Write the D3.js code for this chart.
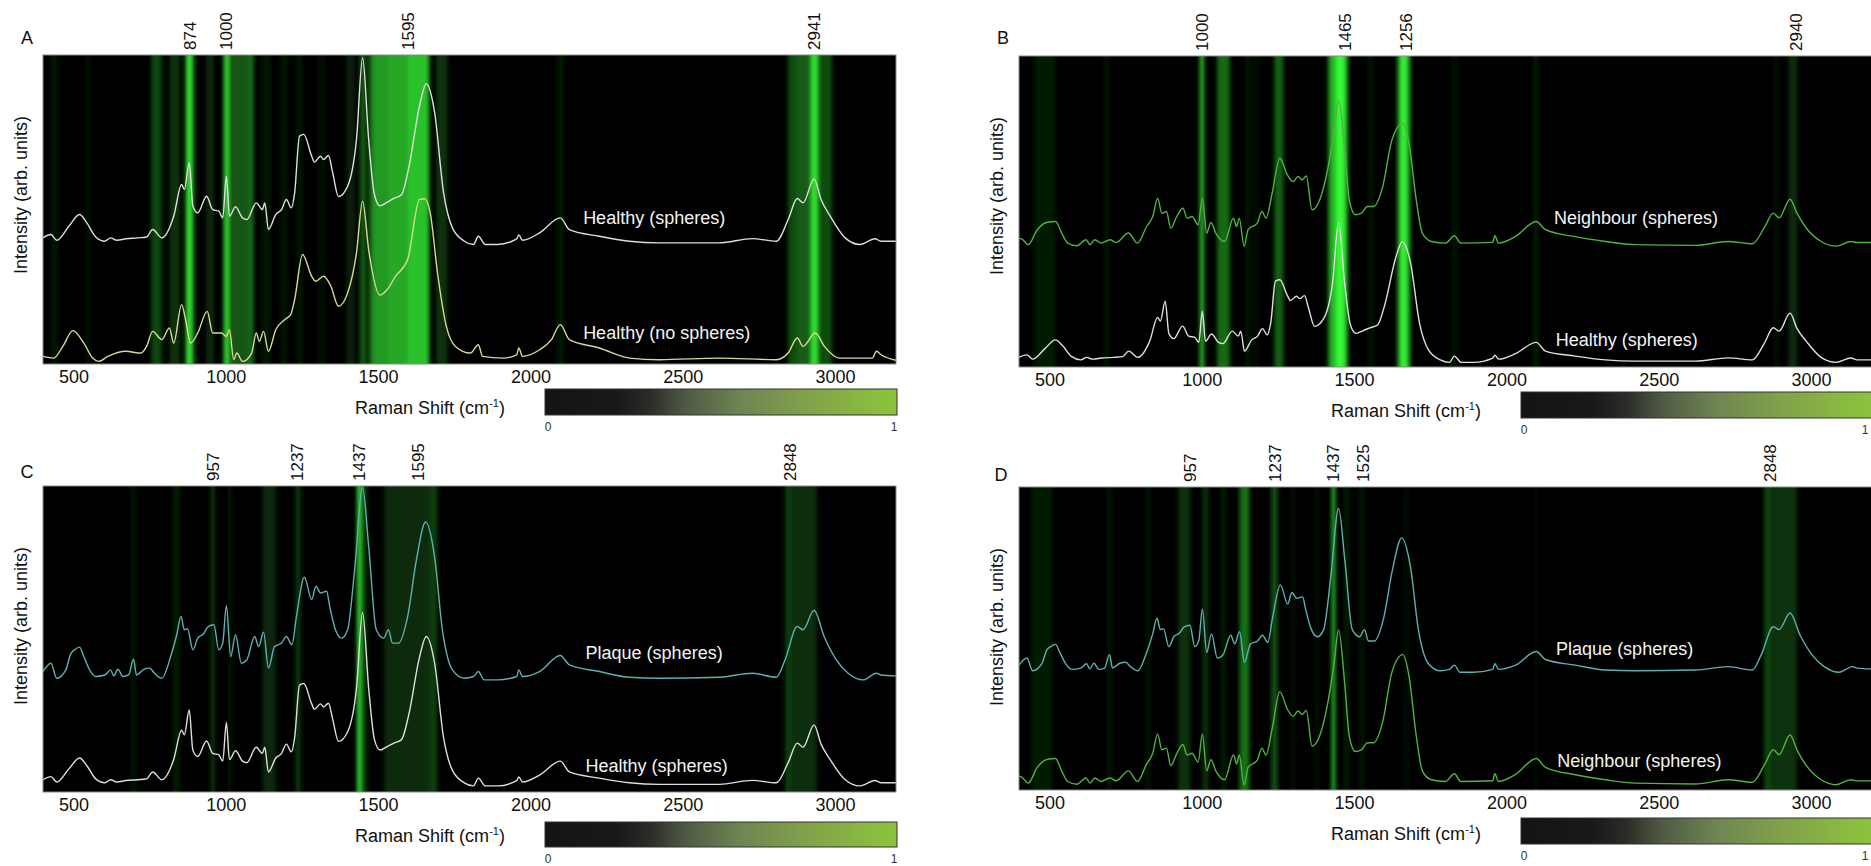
<!DOCTYPE html>
<html><head><meta charset="utf-8">
<script src="https://cdn.jsdelivr.net/npm/d3@7"></script>
<style>body{margin:0;background:#fff}svg{display:block;font-family:Arial,"Liberation Sans",sans-serif}</style>
</head><body><svg id="chart" width="1871" height="866"></svg>
<script>
// ---------------- DATA ----------------
const xDomain = [400, 3200];
const xTicks = [500, 1000, 1500, 2000, 2500, 3000];
const panelLetters = ["A", "B", "C", "D"];
const colorbarTicks = ["0", "1"];

// spectra: [Raman shift, relative intensity (flat region = 0, 1449 peak = 1)]
const healthySpheres = [[400,0.027],[426,0.045],[445,0.014],[485,0.09],[520,0.153],[544,0.108],[573,0.032],[603,0.009],[622,0.027],[642,0.014],[672,0.022],[711,0.027],[740,0.032],[760,0.072],[790,0.027],[829,0.144],[855,0.315],[864,0.288],[880,0.432],[892,0.198],[908,0.162],[937,0.252],[957,0.18],[977,0.171],[990,0.135],[1002,0.36],[1012,0.144],[1032,0.195],[1055,0.135],[1069,0.126],[1100,0.216],[1120,0.18],[1128,0.216],[1140,0.072],[1164,0.153],[1183,0.18],[1199,0.234],[1215,0.189],[1226,0.27],[1242,0.577],[1256,0.586],[1282,0.468],[1291,0.436],[1311,0.468],[1321,0.45],[1337,0.472],[1351,0.378],[1370,0.25],[1400,0.306],[1429,0.559],[1449,1.0],[1469,0.559],[1488,0.26],[1506,0.2],[1530,0.22],[1552,0.24],[1577,0.26],[1600,0.4],[1636,0.74],[1658,0.86],[1685,0.71],[1715,0.27],[1744,0.081],[1783,0.009],[1813,-0.009],[1829,0.036],[1852,-0.009],[1892,-0.009],[1955,0.022],[1962,0.043],[1974,0.014],[2030,0.054],[2098,0.135],[2128,0.072],[2226,0.036],[2325,0.009],[2423,0],[2620,0],[2728,0.023],[2807,0.009],[2846,0.126],[2876,0.24],[2895,0.216],[2931,0.346],[2954,0.234],[2984,0.144],[3033,0.027],[3082,-0.009],[3131,0.022],[3151,0.009],[3200,0.009]];

const healthyNoSpheres = [[400,0.017],[435,0.006],[465,0.08],[498,0.18],[534,0.101],[563,0.006],[583,-0.015],[613,0.017],[672,0.049],[721,0.038],[740,0.08],[760,0.175],[790,0.123],[815,0.197],[829,0.101],[855,0.345],[868,0.249],[884,0.101],[908,0.165],[939,0.302],[957,0.165],[986,0.165],[1002,0.144],[1012,0.186],[1026,-0.004],[1036,0.038],[1055,-0.015],[1085,0.038],[1100,0.165],[1110,0.112],[1124,0.175],[1140,0.049],[1164,0.186],[1193,0.249],[1213,0.281],[1226,0.376],[1252,0.662],[1282,0.524],[1295,0.493],[1321,0.524],[1345,0.461],[1370,0.334],[1400,0.419],[1429,0.672],[1449,1.0],[1469,0.693],[1506,0.405],[1530,0.44],[1557,0.524],[1597,0.63],[1636,1.011],[1652,1.015],[1671,0.926],[1695,0.545],[1724,0.207],[1754,0.08],[1803,0.038],[1829,0.091],[1843,0.017],[1911,0.006],[1955,0.027],[1962,0.07],[1974,0.017],[2030,0.059],[2069,0.123],[2098,0.218],[2128,0.123],[2226,0.07],[2325,0.006],[2423,-0.004],[2620,0.006],[2807,-0.004],[2846,0.038],[2876,0.133],[2895,0.08],[2935,0.165],[2965,0.08],[3014,0.006],[3122,0.006],[3136,0.049],[3151,0.027],[3200,-0.008]];

const neighbourSpheres = [[400,0.05],[410,0.043],[430,0.005],[460,0.108],[490,0.158],[520,0.165],[540,0.085],[560,0.016],[590,-0.002],[620,0.039],[633,0.005],[649,0.039],[669,0.016],[699,0.039],[719,0.021],[759,0.085],[789,0.016],[819,0.13],[839,0.199],[855,0.325],[869,0.222],[884,0.233],[898,0.119],[918,0.199],[938,0.256],[952,0.188],[968,0.199],[988,0.142],[1002,0.325],[1016,0.085],[1030,0.158],[1046,0.085],[1075,0.027],[1104,0.188],[1114,0.13],[1123,0.188],[1139,-0.007],[1152,0.108],[1182,0.153],[1197,0.233],[1211,0.188],[1231,0.359],[1256,0.6],[1281,0.485],[1300,0.439],[1316,0.474],[1330,0.451],[1343,0.478],[1362,0.245],[1387,0.313],[1415,0.542],[1434,0.78],[1449,1.0],[1469,0.657],[1484,0.313],[1504,0.211],[1524,0.222],[1544,0.268],[1564,0.268],[1594,0.405],[1624,0.725],[1660,0.84],[1680,0.703],[1704,0.313],[1724,0.085],[1754,0.027],[1800,0.016],[1829,0.066],[1850,0.016],[1955,0.021],[1962,0.066],[1974,0.016],[2030,0.062],[2098,0.165],[2128,0.108],[2226,0.06],[2325,0.027],[2423,0.005],[2620,0],[2728,0.027],[2807,0.011],[2846,0.12],[2876,0.222],[2895,0.19],[2931,0.318],[2954,0.22],[2984,0.12],[3033,0.027],[3082,-0.005],[3131,0.027],[3151,0.02],[3200,0.02]];

const plaqueSpheres = [[400,0.03],[426,0.074],[445,-0.005],[475,0.039],[491,0.123],[504,0.145],[520,0.159],[534,0.109],[553,0.039],[573,0.004],[603,0.012],[622,0.039],[632,0.007],[646,0.042],[662,0.004],[681,0.012],[697,0.095],[707,0.012],[731,0.042],[750,0.048],[766,0.021],[790,-0.005],[819,0.109],[839,0.224],[853,0.321],[864,0.25],[874,0.256],[892,0.145],[908,0.206],[927,0.229],[941,0.265],[961,0.277],[977,0.145],[990,0.18],[1002,0.377],[1016,0.109],[1032,0.224],[1051,0.074],[1069,0.092],[1095,0.215],[1108,0.162],[1124,0.238],[1140,0.048],[1160,0.162],[1183,0.18],[1199,0.215],[1217,0.171],[1232,0.321],[1258,0.527],[1282,0.409],[1296,0.48],[1311,0.444],[1331,0.453],[1341,0.374],[1360,0.25],[1380,0.206],[1400,0.25],[1423,0.568],[1449,1.0],[1469,0.691],[1494,0.25],[1518,0.206],[1534,0.25],[1547,0.18],[1567,0.18],[1597,0.321],[1626,0.621],[1656,0.818],[1685,0.638],[1711,0.25],[1744,0.039],[1783,-0.005],[1813,0.004],[1829,0.03],[1848,-0.014],[1892,-0.014],[1955,0.004],[1962,0.039],[1974,0.004],[2030,0.03],[2098,0.115],[2128,0.065],[2226,0.03],[2325,0],[2423,-0.005],[2620,0],[2728,0.021],[2807,0],[2836,0.092],[2876,0.268],[2895,0.25],[2931,0.353],[2964,0.215],[3004,0.092],[3043,0.021],[3092,-0.014],[3136,0.021],[3151,0.012],[3200,0.007]];

// heat-map stripes per panel: [start, end, weight 0..1]
const bandsA = [[425,450,0.08],[540,560,0.06],[755,790,0.28],[815,850,0.2],[870,887,1.0],[887,905,0.15],[935,962,0.15],[994,1008,0.95],[1008,1072,0.33],[1072,1092,0.42],[1120,1145,0.1],[1180,1205,0.08],[1230,1252,0.07],[1300,1330,0.06],[1395,1425,0.12],[1441,1457,0.4],[1460,1478,0.15],[1478,1530,0.6],[1530,1594,0.66],[1594,1668,0.76],[1690,1728,0.2],[2088,2110,0.1],[2845,2870,0.3],[2870,2922,0.36],[2922,2942,0.95],[2942,2990,0.3]];
const bandsB = [[450,520,0.1],[680,692,0.12],[995,1006,0.95],[1050,1092,0.42],[1145,1156,0.15],[1175,1185,0.12],[1238,1268,0.38],[1416,1440,0.7],[1440,1467,1.0],[1467,1480,0.7],[1550,1560,0.15],[1643,1653,0.7],[1653,1670,1.0],[1670,1684,0.7],[1825,1835,0.15],[2090,2102,0.15],[2880,2895,0.08],[2925,2955,0.16]];
const bandsC = [[690,702,0.12],[825,850,0.1],[950,965,0.2],[1010,1020,0.12],[1120,1165,0.15],[1230,1245,0.25],[1432,1446,1.0],[1455,1465,0.25],[1520,1670,0.16],[1670,1694,0.25],[2836,2856,0.25],[2856,2940,0.18]];
const bandsD = [[440,510,0.1],[690,702,0.1],[818,830,0.1],[923,962,0.2],[1002,1022,0.2],[1065,1078,0.15],[1124,1156,0.45],[1229,1248,0.35],[1294,1302,0.1],[1372,1382,0.1],[1428,1437,1.0],[1470,1480,0.2],[1520,1530,0.15],[1668,1678,0.12],[2092,2100,0.08],[2846,2866,0.28],[2866,2954,0.2]];

// peak annotations: [text, Raman shift position]
const peaksA = [["874",884],["1000",1002],["1595",1598],["2941",2931]];
const peaksB = [["1000",1000],["1465",1471],["1256",1672],["2940",2950]];
const peaksC = [["957",959],["1237",1234],["1437",1438],["1595",1630],["2848",2852]];
const peaksD = [["957",963],["1237",1239],["1437",1432],["1525",1530],["2848",2866]];

// series per panel: name, spectrum, vertical offset, scale (fraction of axis)
const seriesA = [["Healthy (spheres)", healthySpheres, 0.392, 0.599], ["Healthy (no spheres)", healthyNoSpheres, 0.016, 0.511]];
const seriesB = [["Neighbour (spheres)", neighbourSpheres, 0.391, 0.467], ["Healthy (spheres)", healthySpheres, 0.019, 0.446]];
const seriesC = [["Plaque (spheres)", plaqueSpheres, 0.375, 0.62], ["Healthy (spheres)", healthySpheres, 0.025, 0.562]];
const seriesD = [["Plaque (spheres)", plaqueSpheres, 0.396, 0.533], ["Neighbour (spheres)", neighbourSpheres, 0.02, 0.508]];

// ---------------- STYLE / LAYOUT ----------------
const seriesColor = {
  "Healthy (spheres)": "#dedede",
  "Healthy (no spheres)": "#d9d994",
  "Neighbour (spheres)": "#52b244",
  "Plaque (spheres)": "#5fb0b2"
};
const layout = [
  {left:43,   top:55,  bottom:364, cbTop:389, cbH:26, letter:[27,38],  labelPos:[[2173,0.472],[2173,0.10]]},
  {left:1019, top:56,  bottom:367, cbTop:392, cbH:26, letter:[1003,38], labelPos:[[2156,0.479],[2162,0.087]]},
  {left:43,   top:486, bottom:792, cbTop:822, cbH:25, letter:[27,472], labelPos:[[2181,0.455],[2181,0.085]]},
  {left:1019, top:487, bottom:790, cbTop:818, cbH:26, letter:[1001,475], labelPos:[[2163,0.465],[2167,0.096]]}
];
const PW = 853;
const allBands = [bandsA, bandsB, bandsC, bandsD];
const allPeaks = [peaksA, peaksB, peaksC, peaksD];
const allSeries = [seriesA, seriesB, seriesC, seriesD];

const svg = d3.select("#chart");
const defs = svg.append("defs");
const blur = defs.append("filter").attr("id","hblur").attr("x","-5%").attr("y","0").attr("width","110%").attr("height","100%");
blur.append("feGaussianBlur").attr("stdDeviation","2.2 0");

const cg = defs.append("linearGradient").attr("id","cbar");
[[0,"#141414"],[0.2,"#181818"],[0.3,"#2b2d28"],[0.4,"#4f5a44"],[0.55,"#6e8452"],[0.75,"#82a34a"],[1,"#8cc43c"]]
  .forEach(([o,c]) => cg.append("stop").attr("offset", o).attr("stop-color", c));

const bandColor = d3.scaleLinear().domain([0, 1]).range(["#000000", "#38ff38"]).interpolate(d3.interpolateRgb);

layout.forEach((L, i) => {
  const H = L.bottom - L.top;
  const x = d3.scaleLinear().domain(xDomain).range([L.left, L.left + PW]);
  const y = d3.scaleLinear().domain([0, 1]).range([L.bottom, L.top]);
  const g = svg.append("g");
  const clipId = "clip" + i;
  defs.append("clipPath").attr("id", clipId).append("rect")
    .attr("x", L.left).attr("y", L.top).attr("width", PW).attr("height", H);

  g.append("rect").attr("x", L.left).attr("y", L.top).attr("width", PW).attr("height", H).attr("fill", "#000");

  const bg = g.append("g").attr("clip-path", `url(#${clipId})`).append("g").attr("filter", "url(#hblur)");
  bg.selectAll("rect").data(allBands[i].slice().sort((a,b)=>a[2]-b[2])).join("rect")
    .attr("x", d => x(d[0])).attr("width", d => x(d[1]) - x(d[0]))
    .attr("y", L.top).attr("height", H)
    .attr("fill", d => bandColor(d[2]));

  const lg = g.append("g").attr("clip-path", `url(#${clipId})`);
  allSeries[i].forEach(([name, data, off, sc]) => {
    const line = d3.line().x(d => x(d[0])).y(d => y(off + sc * d[1])).curve(d3.curveMonotoneX);
    lg.append("path").datum(data).attr("d", line)
      .attr("fill", "none").attr("stroke", seriesColor[name]).attr("stroke-width", 1.4)
      .attr("stroke-linejoin", "round");
  });

  allSeries[i].forEach(([name], k) => {
    const [lx, ly] = L.labelPos[k];
    g.append("text").attr("x", x(lx)).attr("y", y(ly)).attr("dy", "0.35em")
      .attr("fill", "#f4f4f4").attr("font-size", 18).text(name);
  });

  g.append("rect").attr("x", L.left).attr("y", L.top).attr("width", PW).attr("height", H)
    .attr("fill", "none").attr("stroke", "#8a8a8a").attr("stroke-width", 1);

  const ax = g.append("g").attr("transform", `translate(0,${L.bottom})`)
    .call(d3.axisBottom(x).tickValues(xTicks).tickSize(0).tickPadding(6).tickFormat(d3.format("d")));
  ax.select(".domain").remove();
  ax.selectAll("text").attr("font-size", 18).attr("fill", "#111").attr("font-family", "Arial, 'Liberation Sans', sans-serif");

  const xt = g.append("text").attr("x", L.left + 387).attr("y", L.bottom + 50)
    .attr("text-anchor", "middle").attr("font-size", 18).attr("fill", "#111");
  xt.append("tspan").text("Raman Shift (cm");
  xt.append("tspan").attr("font-size", 11).attr("dy", "-7").text("-1");
  xt.append("tspan").attr("dy", "7").text(")");

  g.append("text").attr("transform", `translate(${L.left - 22},${L.top + 140}) rotate(-90)`)
    .attr("text-anchor", "middle").attr("dy", "0.35em").attr("font-size", 18).attr("fill", "#111")
    .text("Intensity (arb. units)");

  g.append("text").attr("x", L.letter[0]).attr("y", L.letter[1]).attr("dy", "0.35em")
    .attr("text-anchor", "middle").attr("font-size", 18).attr("fill", "#111").text(panelLetters[i]);

  g.selectAll(".pk").data(allPeaks[i]).join("text")
    .attr("transform", d => `translate(${x(d[1])},${L.top - 5}) rotate(-90)`)
    .attr("dy", "0.35em").attr("font-size", 17).attr("fill", "#111").text(d => d[0]);

  const cbX = L.left + 502, cbW = 352;
  g.append("rect").attr("x", cbX).attr("y", L.cbTop).attr("width", cbW).attr("height", L.cbH)
    .attr("fill", "url(#cbar)").attr("stroke", "#333").attr("stroke-width", 1);
  g.append("text").attr("x", cbX + 3).attr("y", L.cbTop + L.cbH + 16).attr("text-anchor", "middle")
    .attr("font-size", 12).attr("fill", "#333").text(colorbarTicks[0]);
  g.append("text").attr("x", Math.min(cbX + cbW - 3, 1865)).attr("y", L.cbTop + L.cbH + 16).attr("text-anchor", "middle")
    .attr("font-size", 12).attr("fill", "#333").text(colorbarTicks[1]);
});
</script></body></html>
